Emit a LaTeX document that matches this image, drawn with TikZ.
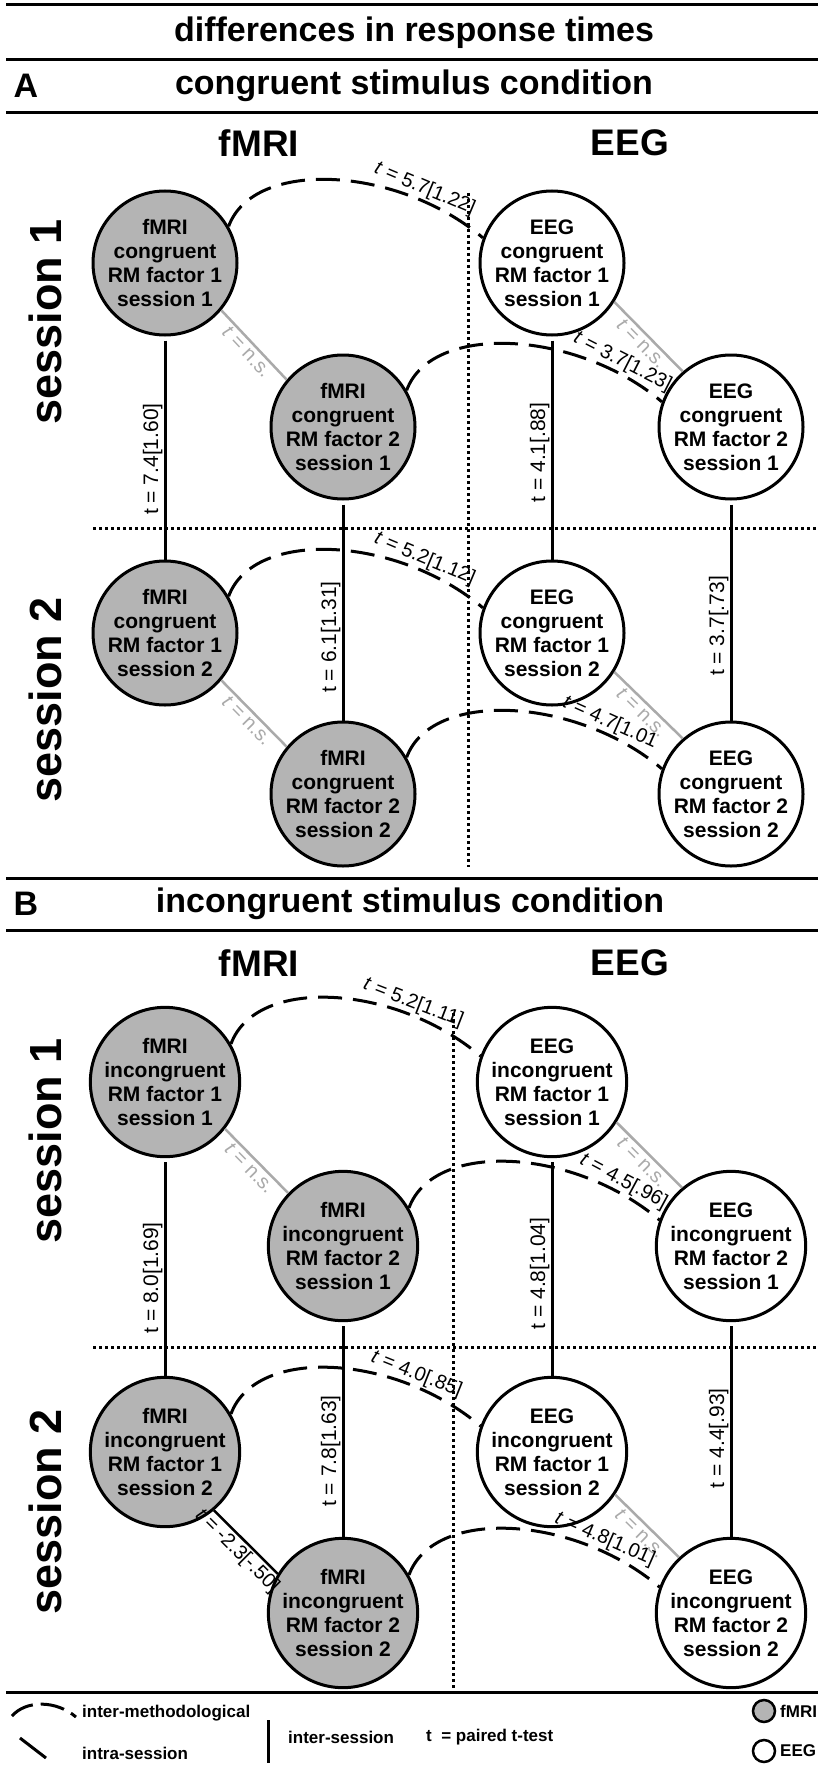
\documentclass[tikz,border=0pt]{standalone}
\usepackage{fontspec}
\setmainfont{Liberation Sans}
\definecolor{fgray}{RGB}{180,180,180}
\definecolor{lgray}{RGB}{170,170,170}
\begin{document}
\begin{tikzpicture}[x=1pt,y=-1pt,
  rulel/.style={line width=3pt},
  nd/.style={circle, draw, line width=3pt, minimum size=144pt, inner sep=0pt, align=center, font=\fontsize{21}{24}\selectfont\bfseries},
  fm/.style={nd, fill=fgray},
  eg/.style={nd, fill=white},
  vlink/.style={line width=3pt, shorten <=4pt},
  vlab/.style={rotate=90, anchor=south, inner sep=1pt, font=\fontsize{21}{22}\selectfont},
  glink/.style={line width=2.5pt, draw=lgray},
  glab/.style={sloped, below, inner sep=2pt, text=lgray, font=\fontsize{20}{21}\selectfont},
  blink/.style={line width=2.5pt},
  blab/.style={sloped, below, inner sep=2pt, font=\fontsize{20}{21}\selectfont},
  arcl/.style={line width=3pt, dash pattern=on 24pt off 11pt},
  alab/.style={sloped, anchor=south, inner sep=1pt, font=\fontsize{20}{21}\selectfont},
  dotl/.style={line width=3pt, dash pattern=on 3pt off 3pt},
  head/.style={font=\fontsize{34}{36}\selectfont\bfseries},
  col/.style={font=\fontsize{37}{40}\selectfont\bfseries},
  sess/.style={font=\fontsize{45}{48}\selectfont\bfseries, rotate=90},
  leg/.style={font=\fontsize{17}{19}\selectfont\bfseries, anchor=west, inner sep=0pt},
  lgc/.style={circle, draw, line width=2.5pt, minimum size=22pt, inner sep=0pt},
]
\path[use as bounding box, fill=white] (0,0) rectangle (818,1771);

% ================= Panel A =================
\draw[rulel] (6,5) -- (818,5);
\node[head] (title) at (414,33) {differences in response times};
\draw[rulel] (6,60) -- (818,60);
\node[head, anchor=west] (lA) at (10,86) {A};
\node[head] (hA) at (414,86) {congruent stimulus condition};
\draw[rulel] (6,113) -- (818,113);
\node[col] (cfA) at (259,143) {fMRI};
\node[col] (ceA) at (630,143) {EEG};
\node[sess] (s1A) at (45,322) {session 1};
\node[sess] (s2A) at (45,700) {session 2};
\coordinate (vdA1) at (468,193); \coordinate (vdA2) at (468,867);
\draw[dotl] (vdA1) -- (vdA2);
\coordinate (hdA1) at (93,528); \coordinate (hdA2) at (818,528);
\draw[dotl] (hdA1) -- (hdA2);

\node[fm] (aF11) at (165,263) {fMRI\\congruent\\RM factor 1\\session 1};
\node[fm] (aF21) at (343,427) {fMRI\\congruent\\RM factor 2\\session 1};
\node[eg] (aE11) at (552,263) {EEG\\congruent\\RM factor 1\\session 1};
\node[eg] (aE21) at (731,427) {EEG\\congruent\\RM factor 2\\session 1};
\node[fm] (aF12) at (165,633) {fMRI\\congruent\\RM factor 1\\session 2};
\node[fm] (aF22) at (343,794) {fMRI\\congruent\\RM factor 2\\session 2};
\node[eg] (aE12) at (552,633) {EEG\\congruent\\RM factor 1\\session 2};
\node[eg] (aE22) at (731,794) {EEG\\congruent\\RM factor 2\\session 2};

\draw[vlink] (aF11) -- node[vlab, pos=.55] {t = 7.4[1.60]} (aF12);
\draw[vlink] (aF21) -- node[vlab, pos=.62] {t = 6.1[1.31]} (aF22);
\draw[vlink] (aE11) -- node[vlab, pos=.52] {t = 4.1[.88]} (aE12);
\draw[vlink] (aE21) -- node[vlab, pos=.57] {t = 3.7[.73]} (aE22);

\draw[glink] (aF11.320) -- node[glab] {\textit{t} = n.s.} (aF21.140);
\draw[glink] (aE11.328) -- node[glab] {\textit{t} = n.s.} (aE21.131);
\draw[glink] (aF12.320) -- node[glab] {\textit{t} = n.s.} (aF22.140);
\draw[glink] (aE12.328) -- node[glab] {\textit{t} = n.s.} (aE22.131);

\draw[arcl] (aF11.30) .. controls +(25,-68) and +(-85,-72) .. node[alab, pos=.78] {\textit{t} = 5.7[1.22]} (aE11.160);
\draw[arcl] (aF21.30) .. controls +(25,-68) and +(-85,-72) .. node[alab, pos=.84] {\textit{t} = 3.7[1.23]} (aE21.160);
\draw[arcl] (aF12.30) .. controls +(25,-68) and +(-85,-72) .. node[alab, pos=.78] {\textit{t} = 5.2[1.12]} (aE12.160);
\draw[arcl] (aF22.30) .. controls +(25,-68) and +(-85,-72) .. node[alab, pos=.8] {\textit{t} = 4.7[1.01} (aE22.160);

% ================= Panel B =================
\draw[rulel] (6,878) -- (818,878);
\node[head, anchor=west] (lB) at (10,904) {B};
\node[head] (hB) at (410,904) {incongruent stimulus condition};
\draw[rulel] (6,930) -- (818,930);
\node[col] (cfB) at (259,963) {fMRI};
\node[col] (ceB) at (630,963) {EEG};
\node[sess] (s1B) at (45,1141) {session 1};
\node[sess] (s2B) at (45,1512) {session 2};
\coordinate (vdB1) at (453,1013); \coordinate (vdB2) at (453,1690);
\draw[dotl] (vdB1) -- (vdB2);
\coordinate (hdB1) at (93,1347); \coordinate (hdB2) at (818,1347);
\draw[dotl] (hdB1) -- (hdB2);

\node[fm] (bF11) at (165,1082) {fMRI\\incongruent\\RM factor 1\\session 1};
\node[fm] (bF21) at (343,1246) {fMRI\\incongruent\\RM factor 2\\session 1};
\node[eg] (bE11) at (552,1082) {EEG\\incongruent\\RM factor 1\\session 1};
\node[eg] (bE21) at (731,1246) {EEG\\incongruent\\RM factor 2\\session 1};
\node[fm] (bF12) at (165,1452) {fMRI\\incongruent\\RM factor 1\\session 2};
\node[fm] (bF22) at (343,1613) {fMRI\\incongruent\\RM factor 2\\session 2};
\node[eg] (bE12) at (552,1452) {EEG\\incongruent\\RM factor 1\\session 2};
\node[eg] (bE22) at (731,1613) {EEG\\incongruent\\RM factor 2\\session 2};

\draw[vlink] (bF11) -- node[vlab, pos=.55] {t = 8.0[1.69]} (bF12);
\draw[vlink] (bF21) -- node[vlab, pos=.6] {t = 7.8[1.63]} (bF22);
\draw[vlink] (bE11) -- node[vlab, pos=.53] {t = 4.8[1.04]} (bE12);
\draw[vlink] (bE21) -- node[vlab, pos=.54] {t = 4.4[.93]} (bE22);

\draw[glink] (bF11.322) -- node[glab] {\textit{t} = n.s.} (bF21.136);
\draw[glink] (bE11.328) -- node[glab] {\textit{t} = n.s.} (bE21.130);
\draw[blink] (bF12.310) -- node[blab] {\textit{t} = -2.3[-.50]} (bF22.149);
\draw[glink] (bE12.326) -- node[glab] {\textit{t} = n.s.} (bE22.133);

\draw[arcl] (bF11.30) .. controls +(25,-68) and +(-85,-72) .. node[alab, pos=.75] {\textit{t} = 5.2[1.11]} (bE11.160);
\draw[arcl] (bF21.30) .. controls +(25,-68) and +(-85,-72) .. node[alab, pos=.85] {\textit{t} = 4.5[.96]} (bE21.160);
\draw[arcl] (bF12.30) .. controls +(25,-68) and +(-85,-72) .. node[alab, pos=.76] {\textit{t} = 4.0[.85]} (bE12.160);
\draw[arcl] (bF22.30) .. controls +(25,-68) and +(-85,-72) .. node[alab, pos=.79] {\textit{t} = 4.8[1.01]} (bE22.160);

% ================= Legend =================
\draw[rulel] (6,1692) -- (818,1692);
\coordinate (lg1) at (12,1716); \coordinate (lg2) at (76,1717);
\draw[line width=3pt, dash pattern=on 24pt off 8pt] (lg1) .. controls (26,1700) and (56,1700) .. (lg2);
\node[leg] (lgt1) at (82,1713) {inter-methodological};
\coordinate (lg3) at (20,1738); \coordinate (lg4) at (46,1758);
\draw[line width=3pt] (lg3) -- (lg4);
\node[leg] (lgt2) at (82,1753) {intra-session};
\coordinate (lg5) at (268,1720); \coordinate (lg6) at (268,1763);
\draw[line width=3pt] (lg5) -- (lg6);
\node[leg] (lgt3) at (288,1737) {inter-session};
\node[leg] (lgt4) at (426,1737) {t\ \ = paired t-test};
\node[lgc, fill=fgray] (lgF) at (764,1711) {};
\node[leg] (lgt5) at (780,1711) {fMRI};
\node[lgc, fill=white] (lgE) at (764,1751) {};
\node[leg] (lgt6) at (780,1751) {EEG};
\end{tikzpicture}
\end{document}
